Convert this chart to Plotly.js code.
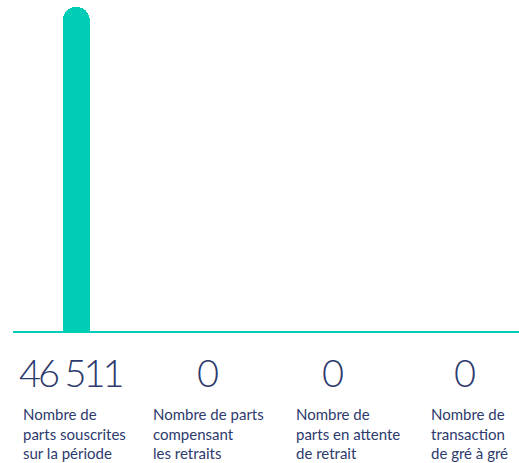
<!DOCTYPE html>
<html>
<head>
<meta charset="utf-8">
<script src="https://cdn.plot.ly/plotly-3.0.1.min.js"></script>
<style>
  html, body { margin: 0; padding: 0; background: #ffffff; }
  #chart { width: 519px; height: 463px; }
</style>
</head>
<body>
<div id="chart"></div>
<script>
// ---- data ----
const categories = [
  "Nombre de<br>parts souscrites<br>sur la période",
  "Nombre de parts<br>compensant<br>les retraits",
  "Nombre de<br>parts en attente<br>de retrait",
  "Nombre de<br>transaction<br>de gré à gré"
];
const values = [46511, 0, 0, 0];
const valueLabels = ["46 511", "0", "0", "0"];

// ---- styling / layout constants ----
const TEAL = "#00CDB6";
const NAVY = "#2D3A6D";
const FONT = "Lato, 'Open Sans', sans-serif";
const numberCentersPx = [70, 207, 332, 464];
const labelLeftsPx = [22, 152, 295, 430];
const M = { l: 13, r: 0, t: 7, b: 132 };
const W = 519, H = 463;
const plotW = W - M.l - M.r, plotH = H - M.t - M.b;
const px2paperX = p => (p - M.l) / plotW;
const px2paperY = p => (H - M.b - p) / plotH;

const keys = categories.map((c, i) => "c" + i);

const trace = {
  type: "bar",
  x: keys,
  y: values,
  width: 0.213,
  marker: { color: TEAL, cornerradius: 14, line: { width: 0 } },
  hoverinfo: "skip"
};

const annotations = [];
valueLabels.forEach((t, i) => {
  annotations.push({
    text: '<span style="letter-spacing:-3px">' + t + '</span>',
    xref: "paper", yref: "paper",
    x: px2paperX(numberCentersPx[i]), y: px2paperY(372),
    xanchor: "center", yanchor: "middle", showarrow: false,
    font: { family: FONT, size: 38, color: NAVY, weight: 300 }
  });
});
categories.forEach((t, i) => {
  annotations.push({
    text: t, xref: "paper", yref: "paper",
    x: px2paperX(labelLeftsPx[i] - 1), y: px2paperY(403),
    xanchor: "left", yanchor: "top", align: "left", showarrow: false,
    font: { family: FONT, size: 15, color: NAVY }
  });
});

const layout = {
  width: W, height: H,
  margin: M,
  paper_bgcolor: "#ffffff", plot_bgcolor: "#ffffff",
  showlegend: false,
  bargap: 0,
  xaxis: {
    type: "category", range: [-0.5, 3.5],
    showline: true, linecolor: TEAL, linewidth: 2,
    showticklabels: false, ticks: "", showgrid: false, zeroline: false
  },
  yaxis: {
    range: [0, 46511], visible: false, showgrid: false, zeroline: false
  },
  annotations: annotations
};

Plotly.newPlot("chart", [trace], layout, { displayModeBar: false, staticPlot: true });
</script>
</body>
</html>
